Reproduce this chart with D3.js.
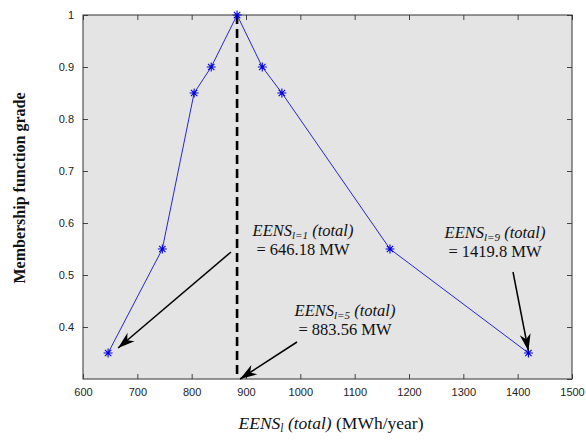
<!DOCTYPE html>
<html>
<head>
<meta charset="utf-8">
<script src="https://cdn.jsdelivr.net/npm/d3@7"></script>
<style>
  html, body { margin: 0; padding: 0; background: #fff; }
  svg { display: block; }
  .tick text { font-family: "Liberation Sans", Arial, sans-serif; font-size: 11px; fill: #222; }
</style>
</head>
<body>
<svg id="chart" width="586" height="440"></svg>
<script>
// EENS totals (MWh/year) and their membership grades
const eens   = [646.18, 746, 804.5, 836, 883.56, 930, 966, 1165, 1419.8];
const grades = [0.35, 0.55, 0.85, 0.90, 1.00, 0.90, 0.85, 0.55, 0.35];

const xTicks = [600, 700, 800, 900, 1000, 1100, 1200, 1300, 1400, 1500];
const yTicks = [0.3, 0.4, 0.5, 0.6, 0.7, 0.8, 0.9, 1.0];

// indices of the annotated points
const notes = [
  { idx: 0, sub: "l=1", value: "= 646.18 MW" },
  { idx: 4, sub: "l=5", value: "= 883.56 MW" },
  { idx: 8, sub: "l=9", value: "= 1419.8 MW" }
];

const svg = d3.select("#chart");
const m = { left: 83, right: 572, top: 15, bottom: 379 };

const x = d3.scaleLinear().domain([600, 1500]).range([m.left, m.right]);
const y = d3.scaleLinear().domain([0.3, 1.0]).range([m.bottom, m.top]);

// plot background
svg.append("rect")
  .attr("x", m.left).attr("y", m.top)
  .attr("width", m.right - m.left).attr("height", m.bottom - m.top)
  .attr("fill", "#e4e4e4");

const fmtY = d => d === 1 ? "1" : d.toFixed(1);

function styleAxis(g) {
  g.select(".domain").remove();
  g.selectAll(".tick line").attr("stroke", "#444");
}

svg.append("g").attr("transform", `translate(0,${m.bottom})`)
  .call(d3.axisBottom(x).tickValues(xTicks).tickSize(-5).tickPadding(9).tickFormat(d3.format("d")))
  .call(styleAxis);
svg.append("g").attr("transform", `translate(0,${m.top})`)
  .call(d3.axisTop(x).tickValues(xTicks).tickSize(-5).tickFormat(""))
  .call(styleAxis);
svg.append("g").attr("transform", `translate(${m.left},0)`)
  .call(d3.axisLeft(y).tickValues(yTicks.filter(v => v > 0.3)).tickSize(-5).tickPadding(9).tickFormat(fmtY))
  .call(styleAxis);
svg.append("g").attr("transform", `translate(${m.right},0)`)
  .call(d3.axisRight(y).tickValues(yTicks).tickSize(-5).tickFormat(""))
  .call(styleAxis);

// axes box
svg.append("rect")
  .attr("x", m.left).attr("y", m.top)
  .attr("width", m.right - m.left).attr("height", m.bottom - m.top)
  .attr("fill", "none").attr("stroke", "#333").attr("stroke-width", 1);

// vertical dashed line at the peak
const peak = eens[grades.indexOf(d3.max(grades))];
svg.append("line")
  .attr("x1", x(peak)).attr("x2", x(peak))
  .attr("y1", y(1.0)).attr("y2", y(0.3))
  .attr("stroke", "#000").attr("stroke-width", 2.6)
  .attr("stroke-dasharray", "9,5");

// membership curve
const pts = eens.map((v, i) => [v, grades[i]]);
svg.append("path")
  .datum(pts)
  .attr("fill", "none")
  .attr("stroke", "#2727d0")
  .attr("stroke-width", 1)
  .attr("d", d3.line().x(d => x(d[0])).y(d => y(d[1])));

// asterisk markers (plus + cross)
const a = 4.5, b = 3.2;
const star = `M${-a},0L${a},0M0,${-a}L0,${a}M${-b},${-b}L${b},${b}M${-b},${b}L${b},${-b}`;
svg.append("g").selectAll("path")
  .data(pts).join("path")
  .attr("transform", d => `translate(${x(d[0])},${y(d[1])})`)
  .attr("d", star)
  .attr("fill", "none")
  .attr("stroke", "#0000dd")
  .attr("stroke-width", 1.1);

// arrow head marker
svg.append("defs").append("marker")
  .attr("id", "head")
  .attr("viewBox", "-18 -7 20 14")
  .attr("refX", 0).attr("refY", 0)
  .attr("markerWidth", 20).attr("markerHeight", 14)
  .attr("markerUnits", "userSpaceOnUse")
  .attr("orient", "auto")
  .append("path")
  .attr("d", "M0,0L-17,-5.5L-12,0L-17,5.5Z")
  .attr("fill", "#000");

// annotation layout: label centre, arrow start, arrow tip offset from the point
const layout = [
  { cx: 303, by: 236, sx: 231, sy: 252, dx: 10, dy: -5, ty: null },
  { cx: 345, by: 316, sx: 297, sy: 342, dx: 3,  dy: 0,  ty: 0.3 },
  { cx: 495, by: 238, sx: 513, sy: 272, dx: 0,  dy: -2, ty: null }
];

const serif = "'Liberation Serif', 'Times New Roman', serif";

notes.forEach((n, k) => {
  const L = layout[k];
  const px = x(eens[n.idx]);
  const py = L.ty === null ? y(grades[n.idx]) : y(L.ty);

  svg.append("line")
    .attr("x1", L.sx).attr("y1", L.sy)
    .attr("x2", px + L.dx).attr("y2", py + L.dy)
    .attr("stroke", "#000").attr("stroke-width", 1.5)
    .attr("marker-end", "url(#head)");

  const t = svg.append("text")
    .attr("x", L.cx).attr("y", L.by)
    .attr("text-anchor", "middle")
    .attr("font-family", serif)
    .attr("font-size", 16.5)
    .attr("font-style", "italic")
    .attr("fill", "#111");
  t.append("tspan").text("EENS");
  t.append("tspan").attr("font-size", 11).attr("dy", 3).text(n.sub);
  t.append("tspan").attr("dy", -3).text(" (total)");

  svg.append("text")
    .attr("x", L.cx).attr("y", L.by + 18.5)
    .attr("text-anchor", "middle")
    .attr("font-family", serif)
    .attr("font-size", 16.5)
    .attr("fill", "#111")
    .text(n.value);
});

// axis titles
const xt = svg.append("text")
  .attr("x", 331).attr("y", 429)
  .attr("text-anchor", "middle")
  .attr("font-family", serif)
  .attr("font-size", 17.5)
  .attr("fill", "#111");
xt.append("tspan").attr("font-style", "italic").text("EENS");
xt.append("tspan").attr("font-style", "italic").attr("font-size", 11.5).attr("dy", 3).text("l");
xt.append("tspan").attr("font-style", "italic").attr("dy", -3).text(" (total)");
xt.append("tspan").text(" (MWh/year)");

svg.append("text")
  .attr("transform", `translate(25,188) rotate(-90)`)
  .attr("text-anchor", "middle")
  .attr("font-family", serif)
  .attr("font-size", 16)
  .attr("font-weight", "bold")
  .attr("fill", "#111")
  .text("Membership function grade");
</script>
</body>
</html>
